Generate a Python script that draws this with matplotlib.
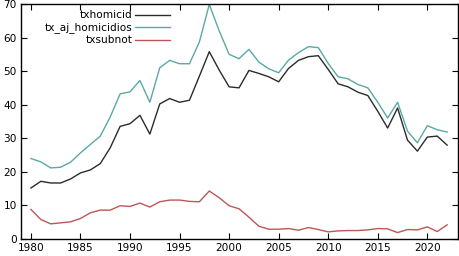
import numpy as np
import matplotlib
matplotlib.use('Agg')
import matplotlib.pyplot as plt

years = np.arange(1980, 2023)

txhomicid = [15.1, 17.1, 16.6, 16.6, 17.8, 19.6, 20.5, 22.4, 27.1, 33.5,
             34.3, 36.8, 31.2, 40.2, 41.8, 40.7, 41.3, 48.5, 55.8, 50.3,
             45.3, 45.0, 50.2, 49.3, 48.3, 46.8, 50.8, 53.2, 54.3, 54.6,
             50.5, 46.2, 45.3, 43.7, 42.7, 38.0, 33.0, 39.0, 29.4, 26.1,
             30.3, 30.6, 27.9]

tx_aj_homicidios = [23.9, 22.9, 21.1, 21.3, 22.8, 25.6, 28.1, 30.6, 36.3, 43.2,
                    43.8, 47.2, 40.7, 51.0, 53.2, 52.2, 52.2, 58.7, 69.9, 62.0,
                    55.0, 53.7, 56.5, 52.7, 50.7, 49.5, 53.3, 55.5, 57.3, 57.0,
                    52.3, 48.3, 47.7, 46.0, 45.0, 40.7, 36.0, 40.7, 32.1, 28.6,
                    33.7, 32.5, 31.8]

txsubnot = [8.7, 5.7, 4.4, 4.7, 5.0, 6.0, 7.7, 8.5, 8.5, 9.8,
            9.6, 10.6, 9.4, 11.0, 11.5, 11.5, 11.1, 11.0, 14.2, 12.2,
            9.8, 8.9, 6.4, 3.7, 2.8, 2.8, 3.0, 2.5, 3.3, 2.7,
            2.0, 2.3, 2.4, 2.4, 2.6, 3.0, 2.9, 1.8, 2.7, 2.6,
            3.5, 2.1, 4.1]

labels = ['txhomicid', 'tx_aj_homicidios', 'txsubnot']
colors = ['#2b2b2b', '#5aa9a5', '#c05555']

plt.rcParams['font.family'] = 'DejaVu Sans'
fig = plt.figure(figsize=(4.6, 2.56), dpi=100)
ax = fig.add_axes([0.0457, 0.068, 0.950, 0.916])

series = [txhomicid, tx_aj_homicidios, txsubnot]
for s, c in zip(series, colors):
    ax.plot(years, s, color=c, lw=1.0)

ax.set_xlim(1979, 2023.1)
ax.set_ylim(0, 70)
ax.set_xticks(np.arange(1980, 2021, 5))
ax.set_yticks(np.arange(0, 71, 10))
ax.tick_params(direction='in', length=4, width=0.8, labelsize=7.6,
               top=True, right=True, pad=3, colors='black')
for sp in ax.spines.values():
    sp.set_linewidth(1.0)

# gnuplot-style key: right-justified text, sample line on the right
for i, (lab, c) in enumerate(zip(labels, colors)):
    y = 0.953 - i * 0.052
    ax.text(0.2556, y, lab, transform=ax.transAxes, ha='right', va='center',
            fontsize=7.6)
    ax.plot([0.261, 0.341], [y, y], transform=ax.transAxes, color=c, lw=1.0)

fig.savefig('out.png', dpi=100)
